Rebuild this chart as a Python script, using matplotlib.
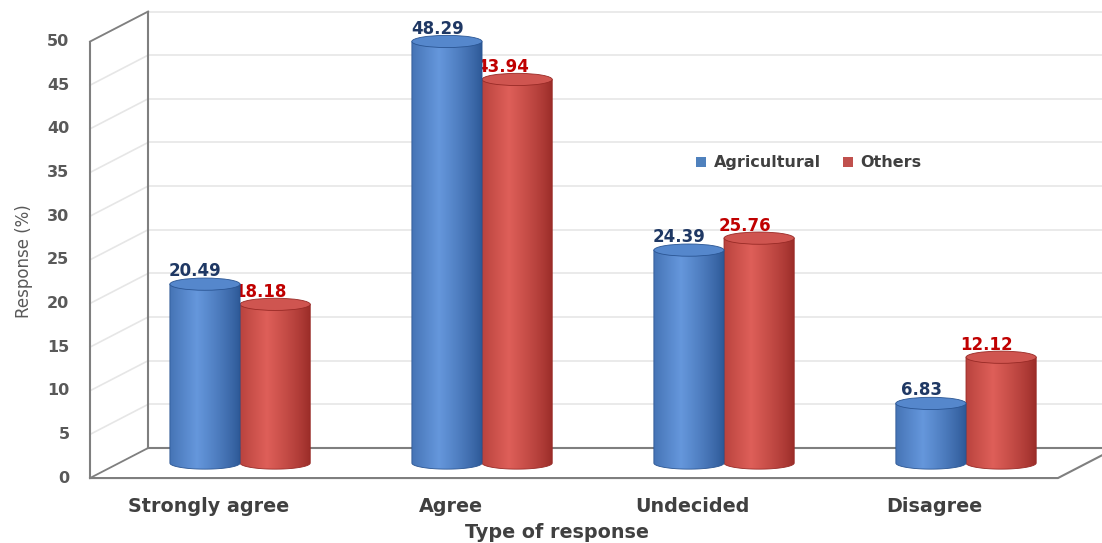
import numpy as np
import matplotlib.pyplot as plt
from matplotlib.patches import Ellipse, Patch, PathPatch
from matplotlib.path import Path
from matplotlib.colors import to_rgb

categories = ['Strongly agree', 'Agree', 'Undecided', 'Disagree']
agricultural = [20.49, 48.29, 24.39, 6.83]
others = [18.18, 43.94, 25.76, 12.12]
yticks = [0, 5, 10, 15, 20, 25, 30, 35, 40, 45, 50]

# fake 3D box: depth offset between the bar plane and the back/front walls
DX, DY = 0.12, 1.72
BAR_W = 0.29
ELL_H = 1.4

fig = plt.figure(figsize=(11.02, 5.43), dpi=100)
ax = fig.add_axes([0, 0, 1, 1])
ax.set_xlim(-0.992, 3.562)
ax.set_ylim(-9.16, 53.04)
ax.axis('off')

left, right = -0.5, 3.5
ymax = yticks[-1]
edge = '#7f7f7f'
grid = '#e6e6e6'

# back wall gridlines and left wall slanted gridlines
for t in yticks[1:]:
    ax.plot([left + DX, 4.0], [t + DY, t + DY], color=grid, lw=1.2, zorder=1)
    ax.plot([left - DX, left + DX], [t - DY, t + DY], color=grid, lw=1.2, zorder=1)

# wall and floor edges
ax.plot([left - DX, left - DX], [-DY, ymax - DY], color=edge, lw=1.5, zorder=2)
ax.plot([left + DX, left + DX], [DY, ymax + DY], color=edge, lw=1.5, zorder=2)
ax.plot([left - DX, left + DX], [ymax - DY, ymax + DY], color=edge, lw=1.3, zorder=2)
ax.plot([left - DX, left + DX], [-DY, DY], color=edge, lw=1.3, zorder=2)
ax.plot([left + DX, 4.0], [DY, DY], color=edge, lw=1.5, zorder=2)
ax.plot([left - DX, right - DX, right + DX], [-DY, -DY, DY], color=edge, lw=1.5, zorder=2)

# y tick labels on the front edge
for t in yticks:
    ax.text(left - DX - 0.085, t - DY, str(t), ha='right', va='center',
            fontsize=11.5, fontweight='bold', color='#595959')


def cylinder(xc, v, dark, light, top, z):
    x0, x1 = xc - BAR_W / 2, xc + BAR_W / 2
    th = np.linspace(np.pi, 2 * np.pi, 60)
    bx = xc + BAR_W / 2 * np.cos(th)
    by = ELL_H / 2 * np.sin(th)
    verts = [(x0, v)] + list(zip(bx, by)) + [(x1, v), (x0, v)]
    path = Path(verts)
    tt = np.linspace(0, 1, 200)
    f = np.clip(1 - np.abs(tt - 0.38) / 0.62, 0, 1) ** 0.8
    d, l = np.array(to_rgb(dark)), np.array(to_rgb(light))
    img = (d[None, :] * (1 - f[:, None]) + l[None, :] * f[:, None])[None, :, :]
    im = ax.imshow(img, extent=(x0, x1, -ELL_H / 2, v), aspect='auto',
                   interpolation='bilinear', zorder=z)
    clip = PathPatch(path, transform=ax.transData, facecolor='none', edgecolor='none')
    ax.add_patch(clip)
    im.set_clip_path(clip)
    ax.add_patch(PathPatch(path, facecolor='none', edgecolor=dark, lw=0.6, zorder=z))
    ax.add_patch(Ellipse((xc, v), BAR_W, ELL_H, facecolor=top, edgecolor=dark,
                         lw=0.6, zorder=z + 0.1))


for i, (a, o) in enumerate(zip(agricultural, others)):
    xa, xo = i - BAR_W / 2, i + BAR_W / 2
    cylinder(xa, a, '#2a5593', '#6597dc', '#5587cc', 4)
    cylinder(xo, o, '#982a26', '#de5f59', '#cf5550', 3)
    # blue cylinders sit in front, so they overlap the red value labels
    ax.text(xa - 0.04, a + 0.45, f'{a:.2f}', ha='center', va='bottom', fontsize=12,
            fontweight='bold', color='#1f3864', zorder=6)
    ax.text(xo - 0.06, o + 0.35, f'{o:.2f}', ha='center', va='bottom', fontsize=12,
            fontweight='bold', color='#c00000', zorder=3.5)
    ax.text(i - DX - 0.01, -4.93, categories[i], ha='center', va='center',
            fontsize=13.8, fontweight='bold', color='#404040')

ax.text(1.31, -7.95, 'Type of response', ha='center', va='center', fontsize=13.8,
        fontweight='bold', color='#404040')
fig.text(0.022, 0.52, 'Response (%)', rotation=90, ha='center', va='center',
         fontsize=12, color='#595959', family=['Liberation Sans Narrow', 'DejaVu Sans'])

handles = [Patch(facecolor='#4f81bd', label='Agricultural'),
           Patch(facecolor='#c0504d', label='Others')]
leg = fig.legend(handles=handles, loc='center', bbox_to_anchor=(0.734, 0.70), ncol=2,
                 frameon=False, handlelength=0.6, handleheight=0.6, handletextpad=0.5,
                 columnspacing=1.4, prop={'weight': 'bold', 'size': 11.5})
for txt in leg.get_texts():
    txt.set_color('#404040')

fig.savefig('out.png', dpi=100)
